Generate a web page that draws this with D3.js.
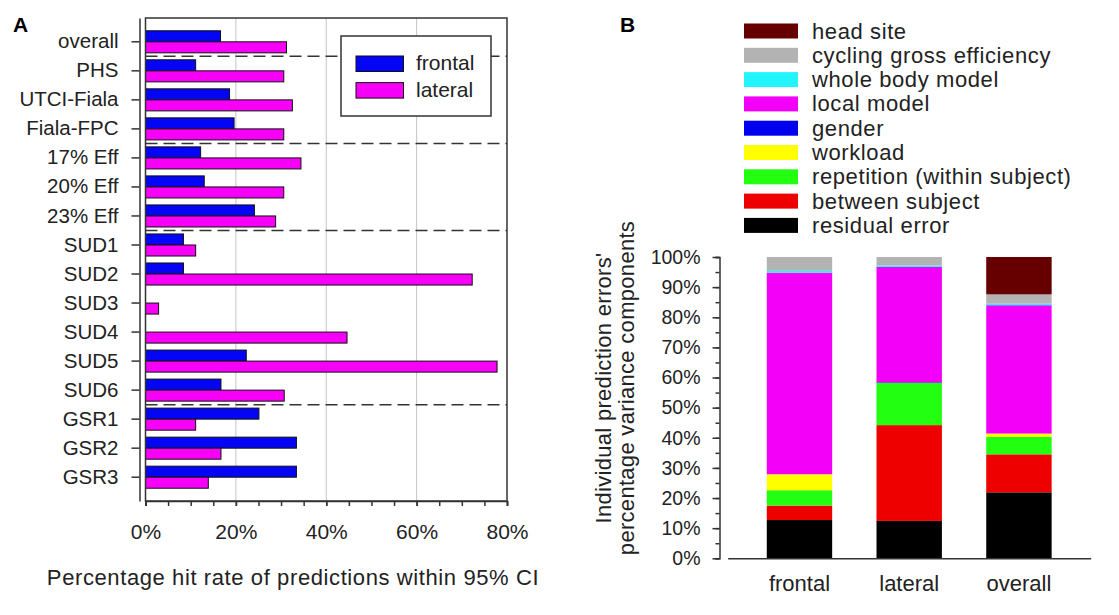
<!DOCTYPE html>
<html>
<head>
<meta charset="utf-8">
<script src="https://cdn.jsdelivr.net/npm/d3@7"></script>
<style>
  body { margin: 0; background: #fff; }
  svg { font-family: "Liberation Sans", Arial, sans-serif; }
  .axis path, .axis line { stroke: #333; }
  .axis text { fill: #222; }
</style>
</head>
<body>
<svg id="chart" width="1119" height="615"></svg>
<script>
// panel A data
const categoriesA = ['overall', 'PHS', 'UTCI-Fiala', 'Fiala-FPC', '17% Eff', '20% Eff', '23% Eff',
  'SUD1', 'SUD2', 'SUD3', 'SUD4', 'SUD5', 'SUD6', 'GSR1', 'GSR2', 'GSR3'];
const frontalA = [16.6, 11.1, 18.6, 19.6, 12.2, 13.0, 24.1, 8.4, 8.4, 0, 0, 22.3, 16.7, 25.1, 33.4, 33.4];
const lateralA = [31.2, 30.6, 32.5, 30.6, 34.4, 30.6, 28.8, 11.1, 72.3, 2.9, 44.6, 77.8, 30.7, 11.1, 16.7, 13.9];
const seriesA = ['frontal', 'lateral'];
const separatorsAfter = ['overall', 'Fiala-FPC', '23% Eff', 'SUD6'];
const xTicksA = [0, 20, 40, 60, 80];

// panel B data (stack order bottom -> top)
const groupsB = ['frontal', 'lateral', 'overall'];
const componentsB = ['residual error', 'between subject', 'repetition (within subject)', 'workload',
  'gender', 'local model', 'whole body model', 'cycling gross efficiency', 'head site'];
const residualB = [12.7, 12.4, 21.9];
const betweenB = [4.8, 31.8, 12.6];
const repetitionB = [5.1, 14.0, 5.8];
const workloadB = [5.3, 0, 1.1];
const genderB = [0, 0.2, 0];
const localB = [66.9, 38.3, 42.6];
const wholeBodyB = [0.6, 0.5, 0.5];
const cyclingB = [4.6, 2.8, 3.1];
const headSiteB = [0, 0, 12.4];
const yTicksB = [0, 10, 20, 30, 40, 50, 60, 70, 80, 90, 100];

const colorA = { frontal: '#0505f5', lateral: '#f700f7' };
const colorB = {
  'residual error': '#000000',
  'between subject': '#ee0000',
  'repetition (within subject)': '#22ff11',
  'workload': '#ffff00',
  'gender': '#0000ee',
  'local model': '#f200f7',
  'whole body model': '#22f4fb',
  'cycling gross efficiency': '#b3b3b3',
  'head site': '#660000'
};

const svg = d3.select('#chart');

// ---------- panel A ----------
const topA = 18, bottomA = 501;
const xA = d3.scaleLinear().domain([0, 80]).range([145.5, 507]);
const yA = d3.scaleBand().domain(categoriesA).range([topA, bottomA]).paddingInner(0.24).paddingOuter(0.44);
const ySub = d3.scaleBand().domain(seriesA).range([0, yA.bandwidth()]);

const gA = svg.append('g');

// grid
gA.selectAll('.grid')
  .data(xTicksA.filter(d => d > 0 && d < 80))
  .enter().append('line')
  .attr('x1', d => xA(d)).attr('x2', d => xA(d))
  .attr('y1', topA).attr('y2', bottomA)
  .attr('stroke', '#c4c4c4').attr('stroke-width', 1);

// separators
gA.selectAll('.sep')
  .data(separatorsAfter)
  .enter().append('line')
  .attr('x1', xA(0)).attr('x2', xA(80))
  .attr('y1', d => yA(d) + yA.bandwidth() + yA.step() * yA.paddingInner() / 2)
  .attr('y2', d => yA(d) + yA.bandwidth() + yA.step() * yA.paddingInner() / 2)
  .attr('stroke', '#333').attr('stroke-width', 1.5)
  .attr('stroke-dasharray', '12,6');

// bars
const rowsA = categoriesA.map((c, i) => ({ cat: c, frontal: frontalA[i], lateral: lateralA[i] }));
gA.selectAll('.row')
  .data(rowsA)
  .enter().append('g')
  .attr('transform', d => 'translate(0,' + yA(d.cat) + ')')
  .selectAll('rect')
  .data(d => seriesA.map(s => ({ s: s, v: d[s] })).filter(e => e.v > 0))
  .enter().append('rect')
  .attr('x', xA(0))
  .attr('y', d => ySub(d.s))
  .attr('width', d => xA(d.v) - xA(0))
  .attr('height', ySub.bandwidth())
  .attr('fill', d => colorA[d.s])
  .attr('stroke', '#111').attr('stroke-width', 1);

// frame
gA.append('rect')
  .attr('x', xA(0)).attr('y', topA)
  .attr('width', xA(80) - xA(0)).attr('height', bottomA - topA)
  .attr('fill', 'none').attr('stroke', '#333').attr('stroke-width', 1.5);

// left axis (offset)
const yAxisA = gA.append('g').attr('class', 'axis')
  .attr('transform', 'translate(139.5,0)')
  .call(d3.axisLeft(yA).tickSizeInner(8).tickSizeOuter(0).tickPadding(13));
yAxisA.select('.domain').attr('stroke-width', 1.5);
yAxisA.selectAll('line').attr('stroke-width', 1.5);
yAxisA.selectAll('text').attr('font-size', 20.5);

// bottom axis
const xAxisMinor = gA.append('g').attr('class', 'axis')
  .attr('transform', 'translate(0,' + bottomA + ')')
  .call(d3.axisBottom(xA).tickValues(d3.range(0, 81, 5)).tickSize(5).tickFormat(''));
xAxisMinor.selectAll('line').attr('stroke-width', 1.5);
xAxisMinor.select('.domain').attr('stroke-width', 1.5);
const xAxisA = gA.append('g').attr('class', 'axis')
  .attr('transform', 'translate(0,' + bottomA + ')')
  .call(d3.axisBottom(xA).tickValues(xTicksA).tickSize(5).tickPadding(18).tickFormat(d => d + '%'));
xAxisA.select('.domain').remove();
xAxisA.selectAll('line').attr('stroke-width', 1.5);
xAxisA.selectAll('text').attr('font-size', 21);

gA.append('text')
  .attr('x', 293).attr('y', 585)
  .attr('text-anchor', 'middle').attr('font-size', 22).attr('letter-spacing', 0.6).attr('fill', '#222')
  .text('Percentage hit rate of predictions within 95% CI');

// legend A
const legA = gA.append('g').attr('transform', 'translate(341,36)');
legA.append('rect').attr('width', 150).attr('height', 80)
  .attr('fill', '#fff').attr('stroke', '#333').attr('stroke-width', 1.5);
seriesA.forEach((s, i) => {
  legA.append('rect')
    .attr('x', 15).attr('y', 20 + i * 26.6).attr('width', 47.5).attr('height', 15.5)
    .attr('fill', colorA[s]).attr('stroke', '#111').attr('stroke-width', 1);
  legA.append('text')
    .attr('x', 75).attr('y', 34 + i * 26.6)
    .attr('font-size', 21).attr('fill', '#222').text(s);
});

svg.append('text').attr('x', 13).attr('y', 32)
  .attr('font-size', 21).attr('font-weight', 'bold').text('A');

// ---------- panel B ----------
const xB = d3.scaleBand().domain(groupsB).range([727.7, 1090.7]).paddingInner(0.404).paddingOuter(0.356);
const yB = d3.scaleLinear().domain([0, 100]).range([558.3, 257]);

const valuesB = [residualB, betweenB, repetitionB, workloadB, genderB, localB, wholeBodyB, cyclingB, headSiteB];
const tableB = groupsB.map((g, i) => {
  const row = { group: g };
  componentsB.forEach((c, j) => { row[c] = valuesB[j][i]; });
  return row;
});
const stacked = d3.stack().keys(componentsB)(tableB);

const gB = svg.append('g');
gB.selectAll('.layer')
  .data(stacked)
  .enter().append('g')
  .attr('fill', d => colorB[d.key])
  .selectAll('rect')
  .data(d => d)
  .enter().append('rect')
  .attr('x', d => xB(d.data.group))
  .attr('y', d => yB(d[1]))
  .attr('width', xB.bandwidth())
  .attr('height', d => yB(d[0]) - yB(d[1]));

// y axis B
const yAxisMinorB = gB.append('g').attr('class', 'axis')
  .attr('transform', 'translate(719.5,0)')
  .call(d3.axisLeft(yB).tickValues(d3.range(0, 101, 5)).tickSize(4).tickFormat(''));
yAxisMinorB.selectAll('line').attr('stroke-width', 1.5);
yAxisMinorB.select('.domain').attr('stroke-width', 1.5);
const yAxisB = gB.append('g').attr('class', 'axis')
  .attr('transform', 'translate(719.5,0)')
  .call(d3.axisLeft(yB).tickValues(yTicksB).tickSize(7).tickPadding(12).tickFormat(d => d + '%'));
yAxisB.select('.domain').remove();
yAxisB.selectAll('line').attr('stroke-width', 1.5);
yAxisB.selectAll('text').attr('font-size', 19.5);

// x axis B
const xAxisB = gB.append('g').attr('class', 'axis')
  .attr('transform', 'translate(0,' + yB(0) + ')')
  .call(d3.axisBottom(xB).tickSize(0).tickPadding(17));
xAxisB.select('.domain').attr('stroke-width', 1.5);
xAxisB.selectAll('text').attr('font-size', 22);

// y title B
const yTitle = ["Individual prediction errors'", 'percentage variance components'];
yTitle.forEach((t, i) => {
  gB.append('text')
    .attr('transform', 'translate(' + (611 + i * 23) + ',388) rotate(-90)')
    .attr('text-anchor', 'middle').attr('font-size', 22).attr('letter-spacing', 0.3).attr('fill', '#222')
    .text(t);
});

// legend B
const legendOrder = componentsB.slice().reverse();
const legB = gB.append('g').attr('transform', 'translate(744,0)');
legendOrder.forEach((c, i) => {
  const cy = 31 + i * 24.3;
  legB.append('rect')
    .attr('x', 0).attr('y', cy - 7.5).attr('width', 54).attr('height', 15)
    .attr('fill', colorB[c]);
  legB.append('text')
    .attr('x', 68).attr('y', cy + 7.5)
    .attr('font-size', 22).attr('letter-spacing', 0.6).attr('fill', '#222').text(c);
});

svg.append('text').attr('x', 620).attr('y', 32)
  .attr('font-size', 21).attr('font-weight', 'bold').text('B');
</script>
</body>
</html>
